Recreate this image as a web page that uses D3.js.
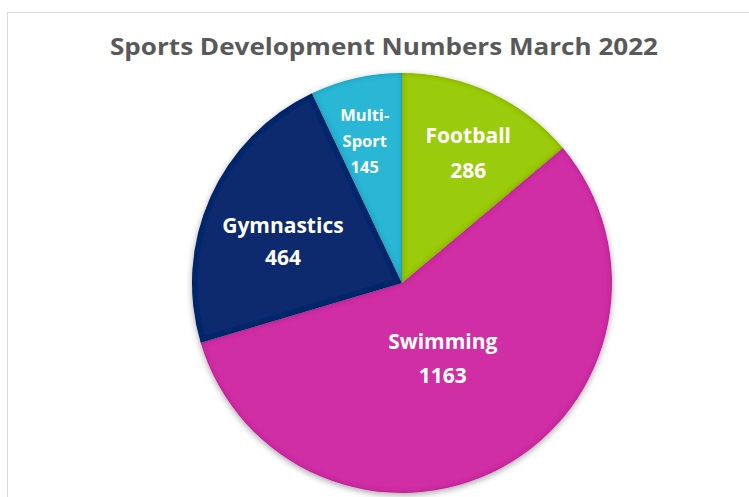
<!DOCTYPE html>
<html><head><meta charset="utf-8">
<script src="https://cdn.jsdelivr.net/npm/d3@7"></script>
<style>body{margin:0;background:#fff;} svg{display:block;}</style>
</head><body>
<svg id="c" width="749" height="497"></svg>
<script>
const categories = ["Football", "Swimming", "Gymnastics", "Multi-Sport"];
const values = [286, 1163, 464, 145];
const labelLines = [["Football", "286"], ["Swimming", "1163"], ["Gymnastics", "464"], ["Multi-", "Sport", "145"]];
const colors = ["#9acb0b", "#d02fa5", "#0b2a6e", "#2cb6d5"];
const labelRadius = [0.695, 0.41, 0.6, 0.70];
const labelAngleShift = [2, 0, -5, -2];
const labelSize = [21, 21, 21, 16.5];
const labelLineHeight = [35, 34, 32, 26];

const svg = d3.select("#c");
const cx = 402, cy = 283, R = 210;
const FONT = "'Open Sans', Lato, sans-serif";

svg.append("rect").attr("x", 7.5).attr("y", 12.5).attr("width", 760).attr("height", 500)
  .attr("fill", "#fff").attr("stroke", "#d9d9d9").attr("stroke-width", 1);

const title = svg.append("text").attr("x", 384).attr("y", 55).attr("text-anchor", "middle")
  .attr("font-family", FONT).attr("font-weight", "bold")
  .attr("font-size", 23).attr("fill", "#595959")
  .text("Sports Development Numbers March 2022");
const tw = title.node().getComputedTextLength();
if (tw > 0) title.attr("textLength", 548).attr("lengthAdjust", "spacingAndGlyphs");

const defs = svg.append("defs");
const f = defs.append("filter").attr("id", "bevel").attr("x", "-10%").attr("y", "-10%").attr("width", "120%").attr("height", "120%");
f.append("feGaussianBlur").attr("in", "SourceAlpha").attr("stdDeviation", 2.5).attr("result", "blur");
f.append("feComposite").attr("in", "SourceAlpha").attr("in2", "blur").attr("operator", "arithmetic")
  .attr("k1", 0).attr("k2", 1).attr("k3", -1).attr("k4", 0).attr("result", "edge");
f.append("feFlood").attr("flood-color", "#000").attr("flood-opacity", 0.45).attr("result", "dark");
f.append("feComposite").attr("in", "dark").attr("in2", "edge").attr("operator", "in").attr("result", "inner");
const m = f.append("feMerge");
m.append("feMergeNode").attr("in", "SourceGraphic");
m.append("feMergeNode").attr("in", "inner");

const sh = defs.append("filter").attr("id", "shadow").attr("x", "-10%").attr("y", "-10%").attr("width", "120%").attr("height", "120%");
sh.append("feDropShadow").attr("dx", 0).attr("dy", 2).attr("stdDeviation", 3).attr("flood-color", "#000").attr("flood-opacity", 0.35);

const data = categories.map((c, i) => ({name: c, value: values[i], i}));
const pie = d3.pie().value(d => d.value).sort(null);
const arcs = pie(data);
const arc = d3.arc().innerRadius(0).outerRadius(R);

const g = svg.append("g").attr("transform", `translate(${cx},${cy})`);
const sg = g.append("g").attr("filter", "url(#shadow)");
sg.selectAll("path").data(arcs).join("path")
  .attr("d", arc).attr("fill", d => colors[d.data.i])
  .attr("filter", "url(#bevel)");

arcs.forEach(d => {
  const i = d.data.i;
  const a = (d.startAngle + d.endAngle) / 2 + labelAngleShift[i] * Math.PI / 180;
  const rr = R * labelRadius[i];
  const x = rr * Math.sin(a), y = -rr * Math.cos(a);
  const lines = labelLines[i];
  const lh = labelLineHeight[i];
  const t = g.append("text").attr("text-anchor", "middle")
    .attr("font-family", FONT).attr("font-weight", "bold")
    .attr("font-size", labelSize[i]).attr("fill", "#fff");
  const y0 = y - (lines.length - 1) * lh / 2 + labelSize[i] * 0.35;
  lines.forEach((ln, k) => {
    t.append("tspan").attr("x", x).attr("y", y0 + k * lh).text(ln);
  });
});
</script>
</body></html>
